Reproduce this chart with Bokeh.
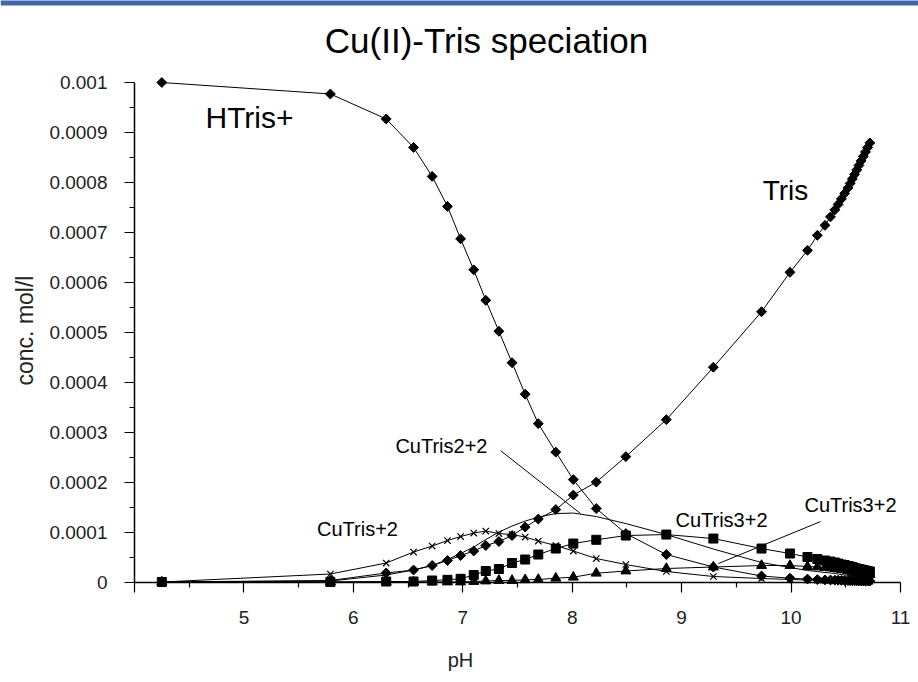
import math
from bokeh.plotting import figure
from bokeh.models import FixedTicker, Label, Range1d, BoxAnnotation
from bokeh.embed import file_html
from bokeh.resources import INLINE

# ---------------- data ----------------
ph = [4.25, 5.79, 6.30, 6.55, 6.72, 6.86, 6.98, 7.10, 7.21, 7.33, 7.45, 7.57, 7.69,
      7.85, 8.01, 8.22, 8.49, 8.86, 9.29, 9.73, 9.99, 10.15, 10.24, 10.31,
      10.36, 10.40, 10.43, 10.46, 10.49, 10.52, 10.54, 10.56, 10.58, 10.60,
      10.62, 10.64, 10.66, 10.68, 10.70, 10.72]

htris = [0.001000, 0.000977, 0.000927, 0.000870, 0.000812, 0.000752, 0.000687,
         0.000625, 0.000564, 0.000502, 0.000439, 0.000376, 0.000317, 0.000260,
         0.000205, 0.000147, 0.000097, 0.000055, 0.000030, 0.000012, 0.0000076,
         0.0000058, 0.0000048, 0.0000042, 0.0000040, 0.0000037, 0.0000035,
         0.0000033, 0.0000031, 0.0000029, 0.0000028, 0.0000026, 0.0000025,
         0.0000024, 0.0000023, 0.0000022, 0.0000021, 0.0000020, 0.0000019,
         0.0000018]

tris = [0.0, 0.000003, 0.000018, 0.000024, 0.000033, 0.000043, 0.000053, 0.000062,
        0.000073, 0.000081, 0.000093, 0.000110, 0.000126, 0.000145, 0.000174,
        0.000200, 0.000251, 0.000325, 0.000430, 0.000541, 0.000620, 0.000664,
        0.000694, 0.000714, 0.000731, 0.000745, 0.000756, 0.000767, 0.000778,
        0.000789, 0.000798, 0.000807, 0.000816, 0.000825, 0.000834, 0.000843,
        0.000852, 0.000861, 0.000870, 0.000879]

cutris1 = [0.0, 0.000016, 0.000038, 0.000060, 0.000072, 0.000083, 0.000091,
           0.000098, 0.000102, 0.000097, 0.000095, 0.000090, 0.000082, 0.000073,
           0.000062, 0.000047, 0.000035, 0.000021, 0.000011, 0.000007, 0.000005,
           0.000004, 0.0000035, 0.000003, 0.000003, 0.0000028, 0.0000026,
           0.0000025, 0.0000024, 0.0000023, 0.0000022, 0.0000021, 0.000002,
           0.000002, 0.0000019, 0.0000018, 0.0000018, 0.0000017, 0.0000016,
           0.0000016]

cutris2 = [0.0, 0.000002, 0.000014, 0.000024, 0.000033, 0.000045, 0.000057,
           0.000070, 0.000085, 0.000100, 0.000112, 0.000122, 0.000130, 0.000137,
           0.000138, 0.000131, 0.000117, 0.000095, 0.000066, 0.000039, 0.000029,
           0.000023, 0.000021, 0.000019, 0.000018, 0.000017, 0.000016, 0.000015,
           0.000014, 0.0000135, 0.000013, 0.0000125, 0.000012, 0.0000115,
           0.000011, 0.0000105, 0.00001, 0.0000095, 0.000009, 0.0000085]

cutris3 = [0.0, 0.0, 0.000001, 0.000001, 0.000003, 0.0000044, 0.0000064, 0.000014,
           0.000022, 0.000026, 0.000038, 0.000045, 0.000055, 0.000067, 0.000077,
           0.0000845, 0.000093, 0.000095, 0.000087, 0.000067, 0.000057, 0.000050,
           0.000046, 0.000043, 0.000041, 0.000039, 0.000037, 0.000035, 0.000034,
           0.000032, 0.000031, 0.000030, 0.000028, 0.000027, 0.000026, 0.000025,
           0.000024, 0.000023, 0.000022, 0.000021]

cutris4 = [0.0, 0.0, 0.0, 0.0, 0.0, 0.0, 0.0, 0.000001, 0.000002, 0.000003,
           0.000003, 0.0000044, 0.000005, 0.0000076, 0.0000096, 0.0000176,
           0.000022, 0.000027, 0.000030, 0.000033, 0.000033, 0.000031, 0.000030,
           0.000029, 0.000028, 0.000027, 0.000026, 0.000025, 0.000024, 0.000023,
           0.000022, 0.000021, 0.000020, 0.000019, 0.000018, 0.000018, 0.000017,
           0.000016, 0.000016, 0.000015]

y_ticks = [0, 0.0001, 0.0002, 0.0003, 0.0004, 0.0005, 0.0006, 0.0007, 0.0008, 0.0009, 0.001]
y_tick_labels = ["0", "0.0001", "0.0002", "0.0003", "0.0004", "0.0005", "0.0006",
                 "0.0007", "0.0008", "0.0009", "0.001"]
x_ticks = [4, 5, 6, 7, 8, 9, 10, 11]
x_tick_labels = ["", "5", "6", "7", "8", "9", "10", "11"]

# annotation texts and anchor positions (data units)
title_text = "Cu(II)-Tris speciation"
labels = [
    ("HTris+", 5.051, 0.000930, "30px"),
    ("Tris", 9.949, 0.000784, "28px"),
    ("CuTris2+2", 6.805, 0.000273, "20px"),
    ("CuTris+2", 6.038, 0.000107, "20px"),
    ("CuTris3+2", 9.364, 0.000125, "20px"),
    ("CuTris3+2", 10.543, 0.000155, "20px"),
]
pointers = [((7.345, 8.076), (0.000263, 0.000137)),
            ((10.269, 9.337), (0.000121, 0.000037))]

# ---------------- figure: frame covers the whole canvas ----------------
sx = 766.0 / 7.0          # px per pH unit
sy = 499.5 / 0.001        # px per mol/l
x0 = 4 - 134 / sx
x1 = 4 + (918 - 134) / sx
y1 = 0.001 + 82 / sy
y0 = -(682 - 581.5) / sy

p = figure(width=918, height=682, output_backend="svg", toolbar_location=None,
           x_range=Range1d(x0, x1), y_range=Range1d(y0, y1),
           min_border_left=0, min_border_right=0, min_border_top=0,
           min_border_bottom=0)
p.outline_line_color = None
p.xgrid.visible = False
p.ygrid.visible = False
p.background_fill_color = "white"
p.border_fill_color = "white"

# blue strip at the very top of the page
p.add_layout(BoxAnnotation(bottom=y1 - 5 / sy, top=y1 + 1 / sy,
                           fill_color="#4164a7", fill_alpha=1, line_color=None))

series = [
    (htris, "square", 7, math.pi / 4),
    (tris, "square", 7, math.pi / 4),
    (cutris1, "x", 9, 0),
    (cutris2, None, 0, 0),
    (cutris3, "square", 9, 0),
    (cutris4, "triangle", 10, 0),
]
for ys, marker, size, ang in series:
    p.line(ph, ys, line_color="black", line_width=1)
for ys, marker, size, ang in series:
    if marker is None:
        continue
    if marker == "x":
        p.scatter(ph, ys, marker="x", size=size, line_color="black", line_width=1.2)
    else:
        p.scatter(ph, ys, marker=marker, size=size, angle=ang, fill_color="black",
                  line_color="black", line_width=1)

for (xs, ys) in pointers:
    p.line(list(xs), list(ys), line_color="black", line_width=1)

# axes at fixed positions
xa = p.xaxis[0]
xa.fixed_location = 0
xa.bounds = (4, 11)
xa.ticker = FixedTicker(ticks=x_ticks, minor_ticks=[4.5, 5.5, 6.5, 7.5, 8.5, 9.5, 10.5])
xa.major_label_overrides = {t: l for t, l in zip(x_ticks, x_tick_labels)}
ya = p.yaxis[0]
ya.fixed_location = 4
ya.bounds = (0, 0.001)
ya.ticker = FixedTicker(ticks=y_ticks,
                        minor_ticks=[0.00005 + 0.0001 * i for i in range(10)])
ya.major_label_overrides = {t: l for t, l in zip(y_ticks, y_tick_labels)}
for ax in (xa, ya):
    ax.axis_line_color = "black"
    ax.axis_line_width = 1.5
    ax.major_tick_line_color = "black"
    ax.major_tick_line_width = 1.2
    ax.minor_tick_line_color = "black"
    ax.minor_tick_line_width = 1.2
    ax.major_tick_out = 10
    ax.major_tick_in = 0
    ax.minor_tick_out = 5
    ax.minor_tick_in = 0
    ax.major_label_text_font = "Liberation Sans"
    ax.major_label_text_font_size = "19px"
    ax.major_label_text_color = "#222222"
xa.major_label_standoff = 19
ya.major_label_standoff = 17

p.add_layout(Label(x=7.217, y=0.001084, text=title_text, text_align="center",
                   text_baseline="middle", text_font="Liberation Sans",
                   text_font_size="35px", text_color="black"))
p.add_layout(Label(x=6.979, y=-0.000157, text="pH", text_align="center",
                   text_baseline="middle", text_font="Liberation Sans",
                   text_font_size="20px", text_color="#222222"))
p.add_layout(Label(x=2.995, y=0.0005035, text="conc. mol/l", text_align="center",
                   text_baseline="middle", angle=math.pi / 2,
                   text_font="Liberation Sans", text_font_size="23px",
                   text_color="#222222"))
for txt, lx, ly, fs in labels:
    p.add_layout(Label(x=lx, y=ly, text=txt, text_align="center",
                       text_baseline="middle", text_font="Liberation Sans",
                       text_font_size=fs, text_color="black"))

open("out.html", "w").write(file_html(p, INLINE))
